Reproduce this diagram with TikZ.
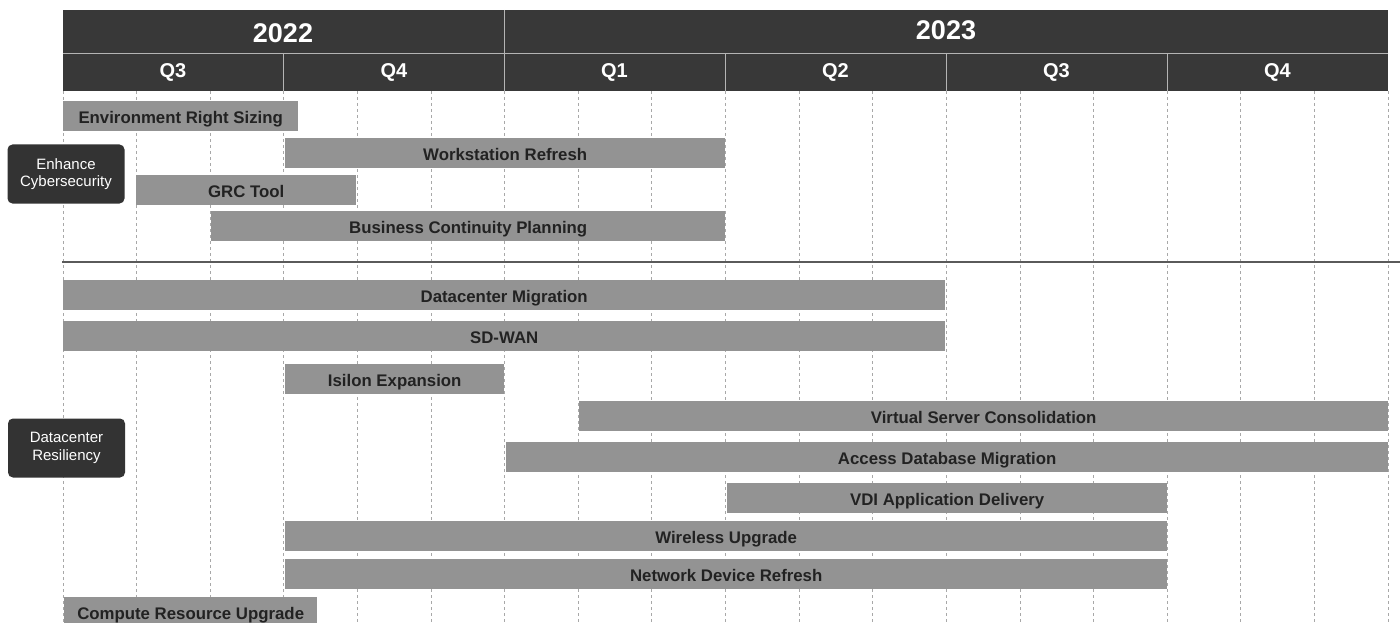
\documentclass[tikz,border=0pt]{standalone}
\usepackage{fontspec}
\setmainfont{Liberation Sans}
\definecolor{hdrgray}{HTML}{383838}
\definecolor{hdrline}{HTML}{B4B4B4}
\definecolor{barfill}{HTML}{939393}
\definecolor{bartext}{HTML}{222222}
\definecolor{gridgray}{HTML}{A8A8A8}
\definecolor{catfill}{HTML}{333333}
\definecolor{sepgray}{HTML}{5A5A5A}
\tikzset{
  yeartext/.style={text=white, font=\fontsize{27}{30}\selectfont\bfseries, inner sep=0pt},
  qtrtext/.style={text=white, font=\fontsize{20}{22}\selectfont\bfseries, inner sep=0pt},
  taskbar/.style={fill=barfill, draw=none, anchor=north west, inner sep=0pt,
    minimum height=30pt, text height=15pt, text depth=0pt,
    text=bartext, font=\fontsize{16.8}{18}\selectfont\bfseries},
  catbox/.style={fill=catfill, draw=none, rounded corners=5pt, text=white,
    minimum width=117pt, minimum height=59pt, align=center, inner sep=0pt,
    font=\fontsize{15}{17.5}\selectfont},
  monthgrid/.style={draw=gridgray, line width=0.8pt, dash pattern=on 3pt off 3pt},
  sepline/.style={draw=sepgray, line width=1.5pt},
  hdrdiv/.style={draw=hdrline, line width=1pt}
}
% one bar of the schedule: name, left, top, right, label
\newcommand\ganttbar[5]{%
  \pgfmathsetmacro\barw{#4-#2}%
  \node[taskbar, minimum width=\barw pt] (#1) at (#2,#3) {#5};%
}
\begin{document}
\begin{tikzpicture}[x=1pt,y=-1pt]
\useasboundingbox (0,0) rectangle (1400,623);

% month grid (18 months, 6 quarters)
\foreach \k in {0,...,18}{
  \pgfmathsetmacro\gx{63+\k*73.6111}
  \coordinate (gt\k) at (\gx,91);
  \coordinate (gb\k) at (\gx,623);
  \draw[monthgrid] (gt\k) -- (gb\k);
}

% header band
\fill[hdrgray] (63,10) rectangle (1388,91);
\coordinate (hl) at (63,54);
\coordinate (hr) at (1388,54);
\draw[hdrdiv] (hl) -- (hr);
\foreach \x in {283,725,946,1167}{
  \draw[hdrdiv] (\x,54) -- (\x,91);
}
\draw[hdrdiv] (504,10) -- (504,91);

\node[yeartext] (y2022) at (283,33) {2022};
\node[yeartext] (y2023) at (946,30) {2023};
\node[qtrtext] (q3a) at (173,72.5) {Q3};
\node[qtrtext] (q4a) at (394,72.5) {Q4};
\node[qtrtext] (q1b) at (614.5,72.5) {Q1};
\node[qtrtext] (q2b) at (835.5,72.5) {Q2};
\node[qtrtext] (q3b) at (1056.5,72.5) {Q3};
\node[qtrtext] (q4b) at (1277.5,72.5) {Q4};

% section divider
\coordinate (sepl) at (62,262);
\coordinate (sepr) at (1400,262);
\draw[sepline] (sepl) -- (sepr);

% categories
\node[catbox] (cyber) at (66,174) {Enhance\\Cybersecurity};
\node[catbox] (dcres) at (66.5,448) {Datacenter\\Resiliency};

% Enhance Cybersecurity projects
\ganttbar{ers}{63}{101}{298}{Environment Right Sizing}
\ganttbar{wsr}{285}{138}{725}{Workstation Refresh}
\ganttbar{grc}{136}{175}{356}{GRC Tool}
\ganttbar{bcp}{211}{211}{725}{Business Continuity Planning}

% Datacenter Resiliency projects
\ganttbar{dcm}{63}{280}{945}{Datacenter Migration}
\ganttbar{sdw}{63}{321}{945}{SD-WAN}
\ganttbar{isi}{285}{364}{504}{Isilon Expansion}
\ganttbar{vsc}{579}{401}{1388}{Virtual Server Consolidation}
\ganttbar{adm}{506}{442}{1388}{Access Database Migration}
\ganttbar{vdi}{727}{483}{1167}{VDI Application Delivery}
\ganttbar{wlu}{285}{521}{1167}{Wireless Upgrade}
\ganttbar{ndr}{285}{559}{1167}{Network Device Refresh}
\ganttbar{cru}{64}{597}{317}{Compute Resource Upgrade}

\end{tikzpicture}
\end{document}
